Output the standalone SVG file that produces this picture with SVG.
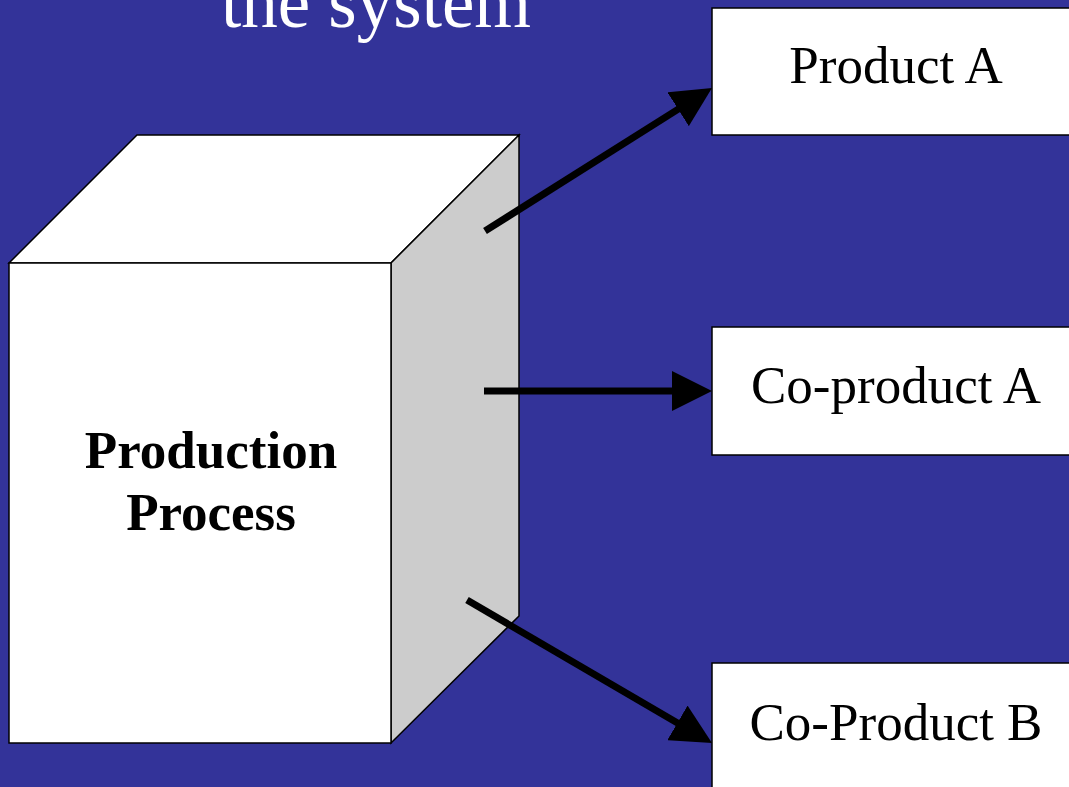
<svg xmlns="http://www.w3.org/2000/svg" width="1069" height="787" viewBox="0 0 1069 787">
<style>
.bg{fill:#333399}
.face{stroke:#000;stroke-width:1.5;stroke-linejoin:miter}
.box{fill:#fff;stroke:#000;stroke-width:1.5}
.lbl{font-family:"Liberation Serif","Times New Roman",serif;font-size:53px;fill:#000;text-anchor:middle}
.title{font-family:"Liberation Serif","Times New Roman",serif;font-size:73px;fill:#fff;text-anchor:middle}
.conn{stroke:#000;stroke-width:7;fill:none;marker-end:url(#ah)}
</style>
<defs>
<marker id="ah" markerUnits="userSpaceOnUse" markerWidth="40" markerHeight="40" refX="10" refY="20" orient="auto" viewBox="0 0 40 40">
<path d="M0,0 L40,20 L0,40 z" fill="#000"/>
</marker>
</defs>
<rect class="bg" x="0" y="0" width="1069" height="787"/>
<text class="title" x="376" y="27">the system</text>
<g id="production-process">
<polygon class="face" fill="#ffffff" points="9,263 137,135 519,135 391,263"/>
<polygon class="face" fill="#cccccc" points="391,263 519,135 519,616 391,743"/>
<rect class="face" fill="#ffffff" x="9" y="263" width="382" height="480"/>
<text class="lbl" x="211" y="468" font-weight="bold">Production</text>
<text class="lbl" x="211" y="530" font-weight="bold">Process</text>
</g>
<g id="product-a">
<rect class="box" x="712" y="8" width="380" height="127"/>
<text class="lbl" x="896" y="83">Product A</text>
</g>
<g id="co-product-a">
<rect class="box" x="712" y="327" width="380" height="128"/>
<text class="lbl" x="896" y="403">Co-product A</text>
</g>
<g id="co-product-b">
<rect class="box" x="712" y="663" width="380" height="140"/>
<text class="lbl" x="896" y="740">Co-Product B</text>
</g>
<g id="connectors">
<line class="conn" x1="485" y1="231" x2="686.6" y2="103.9"/>
<line class="conn" x1="484" y1="391" x2="682" y2="391"/>
<line class="conn" x1="467" y1="600" x2="686.1" y2="727.9"/>
</g>
</svg>
